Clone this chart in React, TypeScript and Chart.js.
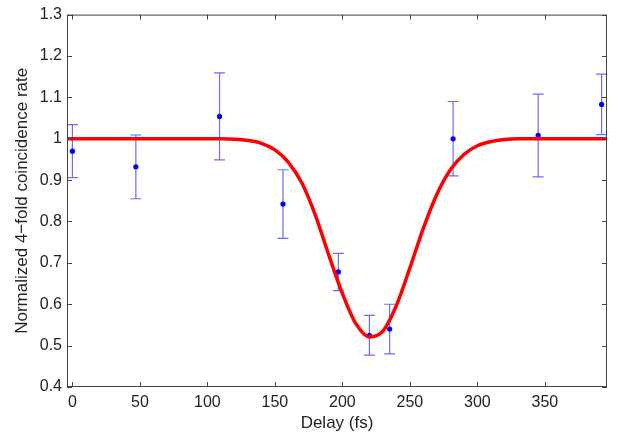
import React, { useEffect, useRef } from 'react'
import Chart, { ChartConfiguration, Plugin } from 'chart.js/auto'

// measured points (delay in fs, normalized rate, symmetric error)
const delays = [0, 47, 109, 156, 197, 220, 235, 282, 345, 392]
const rates = [0.97, 0.932, 1.054, 0.842, 0.678, 0.525, 0.54, 1.0, 1.008, 1.083]
const errors = [0.064, 0.077, 0.105, 0.083, 0.045, 0.048, 0.06, 0.09, 0.1, 0.073]

// fitted dip
const fitDelays = [
  -4, 0, 10, 20, 30, 40, 50, 60, 70, 80, 90, 100, 110, 120, 130, 140, 150, 160, 170, 180, 190,
  200, 210, 220, 230, 240, 250, 260, 270, 280, 290, 300, 310, 320, 330, 340, 350, 360, 370, 380,
  390, 396,
]
const fitRates = [
  1, 1, 1, 1, 1, 1, 1, 1, 1, 1, 1, 1, 1, 0.999, 0.996, 0.989, 0.973, 0.943, 0.893, 0.815, 0.718,
  0.626, 0.553, 0.521, 0.535, 0.597, 0.688, 0.784, 0.866, 0.925, 0.962, 0.983, 0.993, 0.998, 1,
  1, 1, 1, 1, 1, 1, 1,
]

const xTicks = [0, 50, 100, 150, 200, 250, 300, 350]
const yTicks = [0.4, 0.5, 0.6, 0.7, 0.8, 0.9, 1.0, 1.1, 1.2, 1.3]
const yTickLabels = ['0.4', '0.5', '0.6', '0.7', '0.8', '0.9', '1', '1.1', '1.2', '1.3']

const FONT = '"Liberation Sans", Arial, Helvetica, sans-serif'
const TEXT = '#222'

const errorBars: Plugin = {
  id: 'errorBars',
  beforeDatasetsDraw(chart) {
    const { ctx } = chart
    const x = chart.scales.x
    const y = chart.scales.y
    ctx.save()
    ctx.strokeStyle = '#6b6bff'
    ctx.lineWidth = 1.2
    delays.forEach((d, i) => {
      const px = x.getPixelForValue(d)
      const top = y.getPixelForValue(rates[i] + errors[i])
      const bot = y.getPixelForValue(rates[i] - errors[i])
      ctx.beginPath()
      ctx.moveTo(px, top)
      ctx.lineTo(px, bot)
      ctx.moveTo(px - 5.5, top)
      ctx.lineTo(px + 5.5, top)
      ctx.moveTo(px - 5.5, bot)
      ctx.lineTo(px + 5.5, bot)
      ctx.stroke()
    })
    ctx.restore()
  },
}

// box around the plot with inward ticks on all four sides
const frameTicks: Plugin = {
  id: 'frameTicks',
  afterDraw(chart) {
    const { ctx, chartArea } = chart
    const { left, right, top, bottom } = chartArea
    const x = chart.scales.x
    const y = chart.scales.y
    const len = 5
    ctx.save()
    ctx.strokeStyle = '#444'
    ctx.lineWidth = 1
    ctx.strokeRect(left + 0.5, top + 0.5, right - left - 1, bottom - top - 1)
    ctx.beginPath()
    xTicks.forEach((v) => {
      const px = Math.round(x.getPixelForValue(v)) + 0.5
      ctx.moveTo(px, bottom)
      ctx.lineTo(px, bottom - len)
      ctx.moveTo(px, top)
      ctx.lineTo(px, top + len)
    })
    yTicks.forEach((v) => {
      const py = Math.round(y.getPixelForValue(v)) + 0.5
      ctx.moveTo(left, py)
      ctx.lineTo(left + len, py)
      ctx.moveTo(right, py)
      ctx.lineTo(right - len, py)
    })
    ctx.stroke()
    ctx.restore()
  },
}

const DipChart = () => {
  const chartRef = useRef<HTMLCanvasElement>(null)

  useEffect(() => {
    const config: ChartConfiguration = {
      type: 'scatter',
      data: {
        datasets: [
          {
            data: fitDelays.map((d, i) => ({ x: d, y: fitRates[i] })),
            showLine: true,
            borderColor: '#ff0000',
            borderWidth: 3.5,
            pointRadius: 0,
            cubicInterpolationMode: 'monotone',
          } as any,
          {
            data: delays.map((d, i) => ({ x: d, y: rates[i] })),
            showLine: false,
            backgroundColor: '#0000ff',
            borderColor: '#0000ff',
            borderWidth: 0,
            pointRadius: 2.6,
          },
        ],
      },
      options: {
        animation: false,
        responsive: true,
        maintainAspectRatio: false,
        layout: { padding: { top: 13, right: 20, left: 0, bottom: 0 } },
        plugins: {
          legend: { display: false },
          tooltip: { enabled: false },
        },
        scales: {
          x: {
            type: 'linear',
            min: -4,
            max: 396,
            afterBuildTicks: (s: any) => {
              s.ticks = xTicks.map((v) => ({ value: v }))
            },
            afterFit: (s: any) => {
              s.height = 50
            },
            grid: { display: false, drawTicks: false },
            border: { display: false },
            ticks: {
              padding: 6,
              color: TEXT,
              maxRotation: 0,
              font: { family: FONT, size: 16 },
            },
            title: {
              display: true,
              text: 'Delay (fs)',
              color: TEXT,
              font: { family: FONT, size: 17 },
              padding: { top: 0, bottom: 3 },
            },
          },
          y: {
            type: 'linear',
            min: 0.4,
            max: 1.3,
            afterBuildTicks: (s: any) => {
              s.ticks = yTicks.map((v) => ({ value: v }))
            },
            afterFit: (s: any) => {
              s.width = 67
            },
            grid: { display: false, drawTicks: false },
            border: { display: false },
            ticks: {
              padding: 5,
              color: TEXT,
              font: { family: FONT, size: 16 },
              callback: (_v: any, i: number) => yTickLabels[i],
            },
            title: {
              display: true,
              text: 'Normalized 4\u2212fold coincidence rate',
              color: TEXT,
              font: { family: FONT, size: 17 },
              padding: { top: 12, bottom: 0 },
            },
          },
        },
      },
      plugins: [errorBars, frameTicks],
    }

    const chart = new Chart(chartRef.current!, config)
    return () => {
      chart.destroy()
    }
  }, [])

  return (
    <div style={{ position: 'absolute', left: 0, top: 0, width: 627, height: 437, background: '#fff' }}>
      <canvas ref={chartRef} />
    </div>
  )
}

export default function App() {
  return <DipChart />
}
